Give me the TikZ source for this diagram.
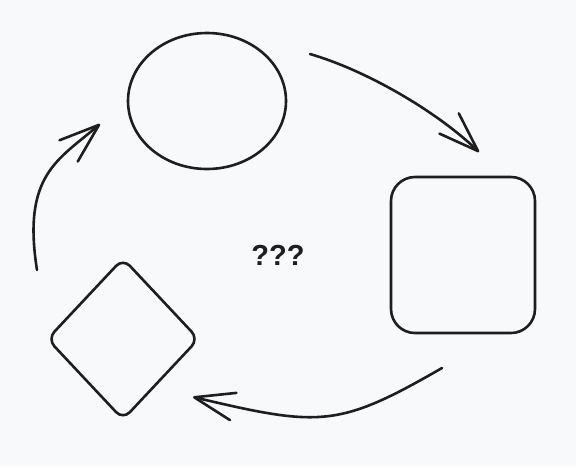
\documentclass[tikz,border=0pt]{standalone}
\usepackage{fontspec}
\setmainfont{Liberation Sans}
\usetikzlibrary{shapes.geometric,arrows.meta}
\definecolor{ink}{HTML}{1E1E1E}
\definecolor{paper}{HTML}{F8F9FA}
\tikzset{
    every node/.style={draw=ink, line width=1.3pt, inner sep=0mm},
    blob/.style={ellipse, minimum width=79pt, minimum height=68pt},
    tile/.style={rectangle, rounded corners=12pt, minimum width=72pt, minimum height=78pt},
    gem/.style={diamond, rounded corners=5pt, minimum width=76pt, minimum height=81pt},
    flow/.style={draw=ink, line width=1.3pt, line cap=round,
        -{Straight Barb[length=20pt, width=14pt, round]}}
}

\begin{document}
\begin{tikzpicture}[x=0.5pt, y=-0.5pt]
    \fill[paper] (0, 0) rectangle (576, 467);
    \useasboundingbox (0, 0) rectangle (576, 467);

    \node (circ) [blob] at (207, 101) {};
    \node (box) [tile] at (463, 255) {};
    \node (gem) [gem] at (123, 339) {};
    \node (ask) [draw=none, text=ink, font=\bfseries\fontsize{14.5pt}{17pt}\selectfont] at (278, 255) {???};

    \coordinate (a1) at (310, 54);
    \coordinate (b1) at (479, 152);
    \coordinate (a2) at (442, 368);
    \coordinate (b2) at (193, 397);
    \coordinate (a3) at (37, 270);
    \coordinate (b3) at (100, 124);

    \draw[flow] (a1) .. controls (365, 70) and (435, 110) .. (b1);
    \draw[flow] (a2) .. controls (338, 428) and (320, 427) .. (b2);
    \draw[flow] (a3) .. controls (22, 175) and (58, 160) .. (b3);
\end{tikzpicture}
\end{document}
